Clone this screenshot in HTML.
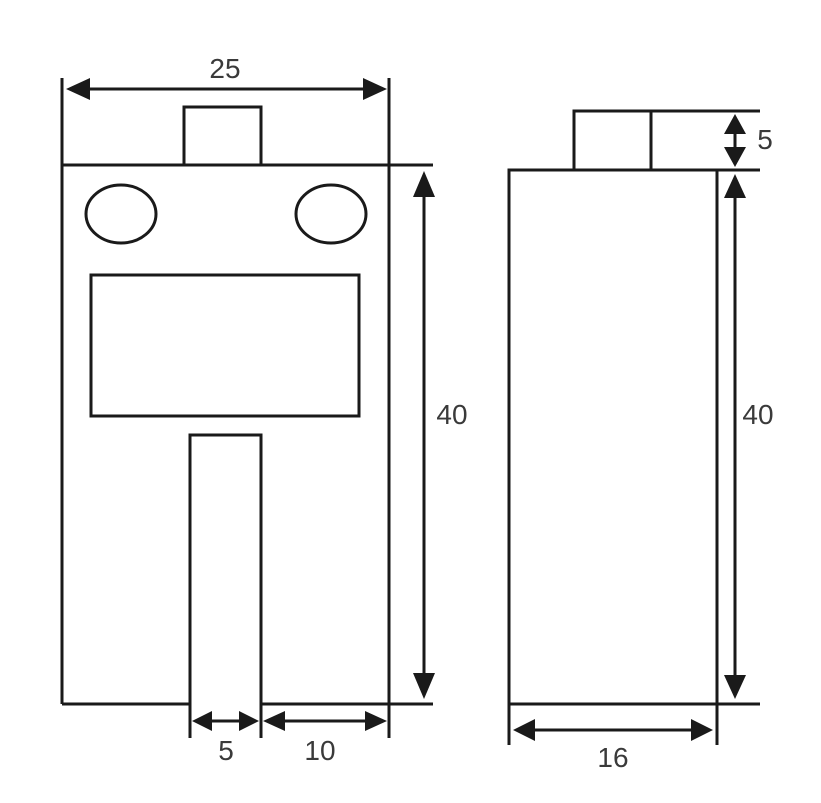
<!DOCTYPE html>
<html><head><meta charset="utf-8"><style>
html,body{margin:0;padding:0;background:#fff;}
svg{display:block;}
text{font-family:"Liberation Sans","DejaVu Sans",sans-serif;font-size:28px;fill:#3a3a3a;}
</style></head><body>
<svg width="821" height="803" viewBox="0 0 821 803" xmlns="http://www.w3.org/2000/svg">
<defs>
<marker id="a" viewBox="0 0 10 10" refX="10" refY="5" markerWidth="7" markerHeight="7" markerUnits="userSpaceOnUse" orient="auto-start-reverse" style="overflow:visible">
</marker>
</defs>
<g stroke="#1a1a1a" stroke-width="3" fill="none">
<!-- left view -->
<line x1="62" y1="78" x2="62" y2="704"/>
<line x1="389" y1="78" x2="389" y2="738"/>
<line x1="62" y1="165" x2="433" y2="165"/>
<line x1="62" y1="704" x2="190" y2="704"/>
<line x1="261" y1="704" x2="433" y2="704"/>
<rect x="184" y="107" width="77" height="58"/>
<ellipse cx="121" cy="214" rx="35" ry="29"/>
<ellipse cx="331" cy="214" rx="35" ry="29"/>
<rect x="91" y="275" width="268" height="141"/>
<polyline points="190,738 190,435 261,435 261,738"/>
<!-- dims left -->
<line x1="85" y1="89" x2="368" y2="89"/>
<line x1="424" y1="190" x2="424" y2="680"/>
<line x1="208" y1="721" x2="243" y2="721"/>
<line x1="280" y1="721" x2="370" y2="721"/>
<!-- right view -->
<rect x="509" y="170" width="208" height="534"/>
<line x1="509" y1="704" x2="509" y2="745"/>
<line x1="717" y1="704" x2="717" y2="745"/>
<line x1="717" y1="704" x2="760" y2="704"/>
<line x1="717" y1="170" x2="760" y2="170"/>
<rect x="574" y="111" width="77" height="59"/>
<line x1="651" y1="111" x2="760" y2="111"/>
<line x1="735" y1="128" x2="735" y2="153"/>
<line x1="735" y1="190" x2="735" y2="680"/>
<line x1="530" y1="730" x2="696" y2="730"/>
</g>
<g fill="#1a1a1a">
<!-- 25 -->
<polygon points="66,89 90,78 90,100"/>
<polygon points="387,89 363,78 363,100"/>
<!-- 40 left -->
<polygon points="424,171 413,197 435,197"/>
<polygon points="424,699 413,673 435,673"/>
<!-- 5 bottom -->
<polygon points="192,721 212,711 212,731"/>
<polygon points="259,721 239,711 239,731"/>
<!-- 10 -->
<polygon points="263,721 285,711 285,731"/>
<polygon points="387,721 365,711 365,731"/>
<!-- 5 right -->
<polygon points="735,114 724,134 746,134"/>
<polygon points="735,167 724,147 746,147"/>
<!-- 40 right -->
<polygon points="735,174 724,198 746,198"/>
<polygon points="735,699 724,675 746,675"/>
<!-- 16 -->
<polygon points="513,730 535,719 535,741"/>
<polygon points="713,730 691,719 691,741"/>
</g>
<text x="225" y="78" text-anchor="middle">25</text>
<text x="452" y="424" text-anchor="middle">40</text>
<text x="758" y="424" text-anchor="middle">40</text>
<text x="765" y="149" text-anchor="middle">5</text>
<text x="226" y="760" text-anchor="middle">5</text>
<text x="320" y="760" text-anchor="middle">10</text>
<text x="613" y="767" text-anchor="middle">16</text>
</svg>
</body></html>
